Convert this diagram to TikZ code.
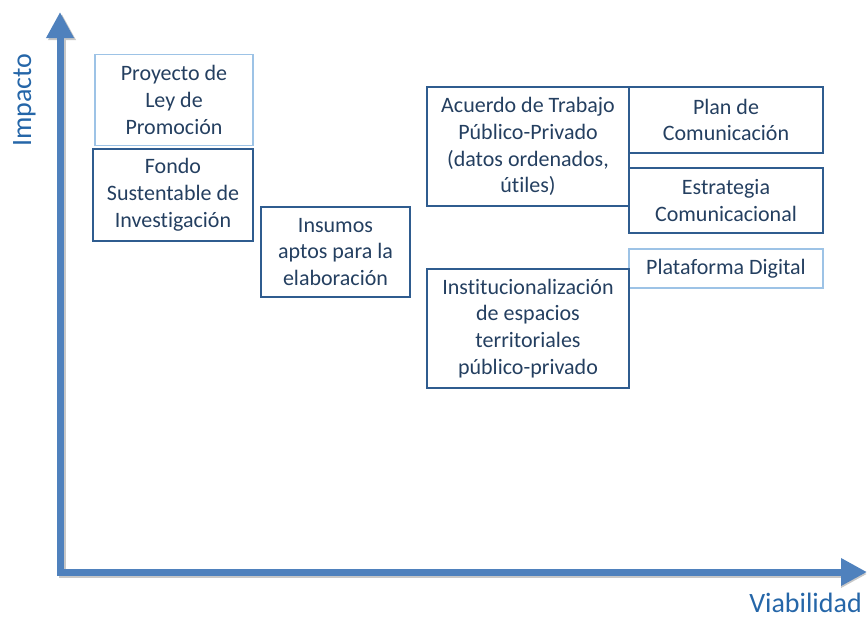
\documentclass[tikz,border=0pt]{standalone}
\usepackage{fontspec}
\setmainfont{Carlito}[RawFeature={-liga;-calt;-clig;-dlig}]
\usetikzlibrary{arrows.meta}
\definecolor{axisblue}{HTML}{4F81BD}
\definecolor{txtblue}{HTML}{243F60}
\definecolor{darkborder}{HTML}{2F5C8F}
\definecolor{lightborder}{HTML}{9DC3E6}
\definecolor{labelblue}{HTML}{2566A8}
\tikzset{
  box/.style={draw=darkborder, line width=1.2pt, rectangle, align=center, text=txtblue,
    font=\fontsize{22}{26.8}\selectfont, inner sep=0pt},
  lightbox/.style={box, draw=lightborder},
  axislabel/.style={text=labelblue, font=\fontsize{28}{30}\selectfont, inner sep=0pt},
  axisline/.style={line width=7pt, draw=axisblue, line join=miter,
    {Triangle[width=26pt,length=26pt]}-{Triangle[width=26pt,length=26pt]}},
}
\begin{document}
\begin{tikzpicture}[x=1pt,y=-1pt]
\useasboundingbox (0,0) rectangle (867,619);
\coordinate (ytip) at (60,12);
\coordinate (org) at (60,572);
\coordinate (xtip) at (867,572);
\coordinate (ytips) at (62,14);
\coordinate (orgs) at (62,574);
\coordinate (xtips) at (867,574);
\draw[axisline, draw=black!22] (ytips) -- (orgs) -- (xtips);
\draw[axisline] (ytip) -- (org) -- (xtip);

\node[lightbox, minimum width=158pt, minimum height=91pt] (proy) at (174,100) {Proyecto de\\Ley de\\Promoción};
\node[box, minimum width=160pt, minimum height=92pt] (fondo) at (173,195) {Fondo\\Sustentable de\\Investigación};
\node[box, minimum width=149pt, minimum height=90pt] (ins) at (335.5,252) {Insumos\\aptos para la\\elaboración};
\node[box, minimum width=202pt, minimum height=119pt] (acu) at (528,146.5) {Acuerdo de Trabajo\\Público-Privado\\(datos ordenados,\\útiles)};
\node[box, minimum width=194pt, minimum height=66pt] (plan) at (726,120) {Plan de\\Comunicación};
\node[box, minimum width=194pt, minimum height=65pt] (estr) at (726,200.5) {Estrategia\\Comunicacional};
\node[lightbox, minimum width=194pt, minimum height=39pt] (plat) at (726,268.5) {Plataforma Digital};
\node[box, minimum width=202pt, minimum height=119pt] (inst) at (528,328.5) {Institucionalización\\de espacios\\territoriales\\público-privado};

\node[axislabel, rotate=90, anchor=base] (imp) at (31,100) {Impacto};
\node[axislabel, anchor=base east] (via) at (862,612) {Viabilidad};
\end{tikzpicture}
\end{document}
